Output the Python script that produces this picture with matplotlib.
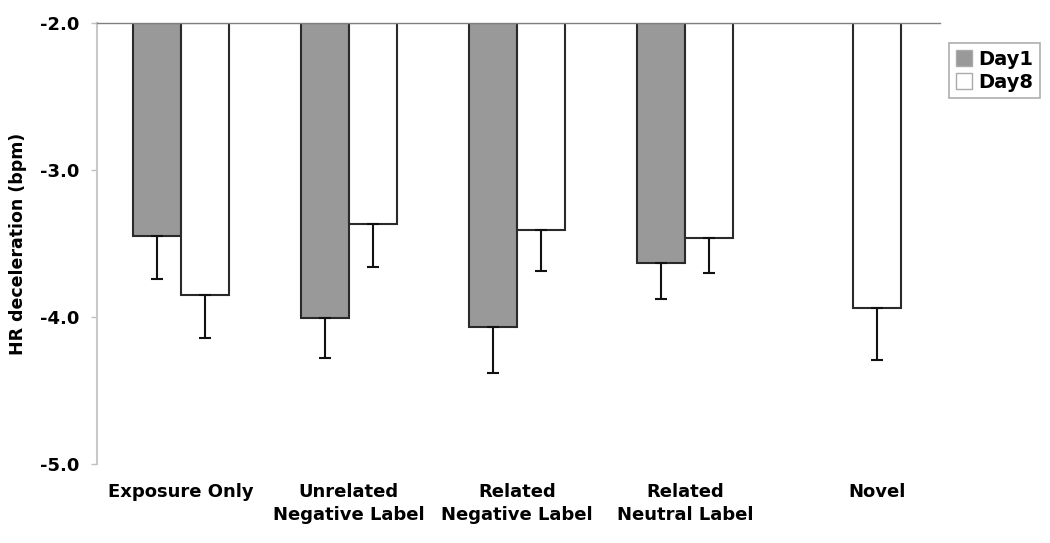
import matplotlib
matplotlib.use('Agg')
import matplotlib.pyplot as plt
import numpy as np

# HR deceleration, bars hang from the -2.0 baseline
categories = ['Exposure Only', 'Unrelated\nNegative Label', 'Related\nNegative Label',
              'Related\nNeutral Label', 'Novel']
day1 = [-3.45, -4.01, -4.07, -3.63, np.nan]
day1_err = [0.29, 0.27, 0.31, 0.25, np.nan]
day8 = [-3.85, -3.37, -3.41, -3.46, -3.94]
day8_err = [0.29, 0.29, 0.28, 0.24, 0.35]
base = -2.0

plt.rcParams['font.family'] = ['DejaVu Sans']
plt.rcParams['font.weight'] = 'bold'

fig = plt.figure(figsize=(10.5, 5.43), dpi=100)
ax = fig.add_axes([0.0924, 0.1455, 0.8029, 0.8121])

x = np.arange(len(categories))
w = 0.286
edge = '#2a2a2a'

d1 = np.array(day1)
d8 = np.array(day8)
ax.bar(x - w / 2, d1 - base, w, bottom=base, color='#999999', edgecolor=edge,
       linewidth=1.5, label='Day1')
ax.bar(x + w / 2, d8 - base, w, bottom=base, color='white', edgecolor=edge,
       linewidth=1.5, label='Day8')

e1 = np.array(day1_err)
e8 = np.array(day8_err)
ax.errorbar(x - w / 2, d1, yerr=[e1, np.zeros_like(e1)], fmt='none', ecolor='#111111',
            elinewidth=1.5, capsize=4.5, capthick=1.5)
ax.errorbar(x + w / 2, d8, yerr=[e8, np.zeros_like(e8)], fmt='none', ecolor='#111111',
            elinewidth=1.5, capsize=4.5, capthick=1.5)

ax.set_xlim(-0.5, 4.52)
ax.set_ylim(-5.0, -2.0)
ax.set_yticks([-5.0, -4.0, -3.0, -2.0])
ax.set_yticklabels(['-5.0', '-4.0', '-3.0', '-2.0'], fontsize=13, fontweight='bold')

# the Novel label sits under its single bar
tick_pos = list(x.astype(float))
tick_pos[4] = 4 + w / 2
ax.set_xticks(tick_pos)
ax.set_xticklabels(categories, fontsize=13, fontweight='bold', linespacing=1.3)
ax.tick_params(axis='x', length=0, pad=14)
ax.tick_params(axis='y', length=4, color='#c0c0c0', width=1, pad=9)

ax.spines['right'].set_visible(False)
ax.spines['bottom'].set_visible(False)
ax.spines['left'].set_color('#c8c8c8')
ax.spines['left'].set_linewidth(1.5)
ax.spines['top'].set_color('#808080')
ax.spines['top'].set_linewidth(1.0)

ax.set_ylabel('HR deceleration (bpm)', fontsize=12.5, fontweight='bold', labelpad=9)

leg = ax.legend(loc='upper left', bbox_to_anchor=(1.0107, 0.955), frameon=True,
                fancybox=False, edgecolor='#999999', borderaxespad=0,
                prop={'weight': 'bold', 'size': 14},
                handlelength=0.85, handleheight=0.85, handletextpad=0.3,
                borderpad=0.35, labelspacing=0.2)
leg.get_frame().set_linewidth(1.2)
for h in leg.legend_handles:
    h.set_edgecolor('#aaaaaa')
    h.set_linewidth(1.0)

fig.savefig('out.png', dpi=100)
